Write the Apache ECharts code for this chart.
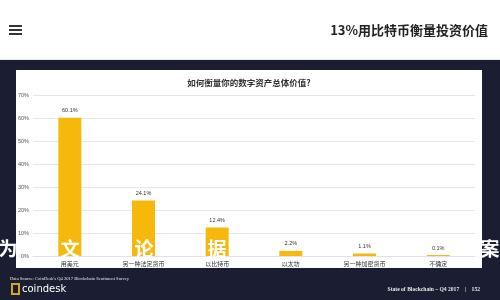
<!DOCTYPE html>
<html>
<head>
<meta charset="utf-8">
<script src="https://cdn.jsdelivr.net/npm/echarts@6/dist/echarts.min.js"></script>
<style>html,body{margin:0;padding:0;background:#fff}#c{width:500px;height:300px}</style>
</head>
<body>
<div id="c"></div>
<script>
const pageTitle = '13%用比特币衡量投资价值';
const chartTitle = '如何衡量你的数字资产总体价值?';
const categories = ['用美元', '另一种法定货币', '以比特币', '以太坊', '另一种加密货币', '不确定'];
const values = [60.1, 24.1, 12.4, 2.2, 1.1, 0.1];
const yTicks = [0, 10, 20, 30, 40, 50, 60, 70];
const sourceText = "Data Source: CoinDesk's Q4 2017 Blockchain Sentiment Survey";
const footerText = 'State of Blockchain – Q4 2017    |    152';
const overlayChars = ['为', '文', '论', '据', '案'];

const NAVY = '#1b1e33';
const GOLD = '#f6b90b';
const cjk = '"Noto Sans CJK SC", "Noto Sans", sans-serif';

const chart = echarts.init(document.getElementById('c'), null, {renderer: 'canvas'});

const overlayPos = [8, 70, 144, 217, 490];
const overlay = overlayChars.map((ch, i) => ({
  type: 'text', z: 100, x: overlayPos[i], y: 249,
  style: {text: ch, fill: '#ffffff', font: 'bold 19px ' + cjk, textAlign: 'center', textVerticalAlign: 'middle'}
}));

chart.setOption({
  backgroundColor: NAVY,
  animation: false,
  graphic: [
    {type: 'rect', z: -10, shape: {x: 0, y: 0, width: 500, height: 60}, style: {fill: '#ffffff'}},
    {type: 'rect', z: -10, shape: {x: 0, y: 59, width: 500, height: 1}, style: {fill: '#e8e8ec'}},
    {type: 'rect', z: -10, shape: {x: 16, y: 70, width: 466, height: 198}, style: {fill: '#ffffff'}},
    {type: 'rect', z: 5, shape: {x: 9, y: 25, width: 13, height: 2}, style: {fill: '#333'}},
    {type: 'rect', z: 5, shape: {x: 9, y: 29, width: 13, height: 2}, style: {fill: '#333'}},
    {type: 'rect', z: 5, shape: {x: 9, y: 33, width: 13, height: 2}, style: {fill: '#333'}},
    {type: 'text', z: 5, x: 488, y: 30, style: {text: pageTitle, fill: '#222', font: 'bold 13px ' + cjk, textAlign: 'right', textVerticalAlign: 'middle'}},
    {type: 'text', z: 5, x: 249, y: 83, style: {text: chartTitle, fill: '#333', font: 'bold 8.5px ' + cjk, textAlign: 'center', textVerticalAlign: 'middle'}},
    {type: 'text', z: 5, x: 10, y: 279, style: {text: sourceText, fill: '#e6e6ea', font: '4.6px "Liberation Serif", serif', textAlign: 'left', textVerticalAlign: 'middle'}},
    {type: 'rect', z: 5, shape: {x: 12, y: 284, width: 7, height: 10}, style: {fill: 'none', stroke: '#d9a520', lineWidth: 2}},
    {type: 'text', z: 5, x: 22, y: 289, style: {text: 'coindesk', fill: '#ffffff', font: '10px "DejaVu Sans", sans-serif', textAlign: 'left', textVerticalAlign: 'middle'}},
    {type: 'text', z: 5, x: 480, y: 290, style: {text: footerText, fill: '#e6e6ea', font: 'bold 5.6px "Liberation Serif", serif', textAlign: 'right', textVerticalAlign: 'middle'}}
  ].concat(overlay),
  grid: {left: 33, right: 25, top: 95, bottom: 44},
  xAxis: {
    type: 'category', data: categories,
    axisLine: {show: true, lineStyle: {color: '#e2e2e2'}},
    axisTick: {show: false},
    axisLabel: {color: '#333', fontSize: 6, margin: 5, fontFamily: cjk, interval: 0}
  },
  yAxis: {
    type: 'value', min: yTicks[0], max: yTicks[yTicks.length - 1], interval: 10,
    axisLine: {show: false}, axisTick: {show: false},
    splitLine: {lineStyle: {color: '#e6e6e6'}},
    axisLabel: {color: '#555', fontSize: 5.5, margin: 4, formatter: '{value}%'}
  },
  series: [{
    type: 'bar', data: values, barWidth: 23, barMinHeight: 1,
    itemStyle: {color: GOLD},
    label: {show: true, position: 'top', distance: 4, fontSize: 5.5, color: '#333', formatter: p => p.value.toFixed(1) + '%'}
  }]
});
</script>
</body>
</html>
